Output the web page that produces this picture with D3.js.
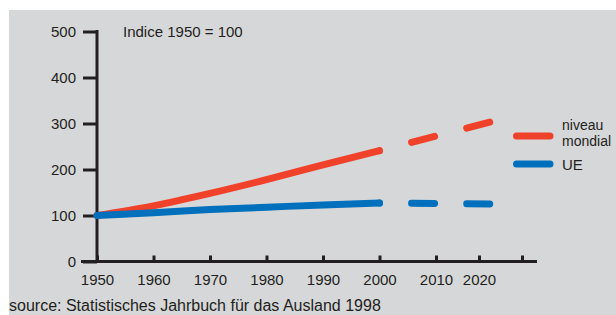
<!DOCTYPE html>
<html><head><meta charset="utf-8">
<script src="https://cdn.jsdelivr.net/npm/d3@7"></script>
<style>
body{margin:0;background:#fff;}
svg{display:block;font-family:"Liberation Sans",Arial,sans-serif;}
</style></head>
<body><svg id="c" width="616" height="315"></svg>
<script>
const years = [1950, 1960, 1970, 1980, 1990, 2000];
const projYears = [2000, 2022.5];
const mondial = [100, 121, 148, 178, 210, 241];
const mondialProj = [241, 303];
const ue = [100, 106, 113, 118, 123, 127];
const ueProj = [127, 125];
const xTicks = [1950, 1960, 1970, 1980, 1990, 2000, 2010, 2020, 2030];
const xTickLabels = ["1950", "1960", "1970", "1980", "1990", "2000", "2010", "2020", ""];
const yTicks = [0, 100, 200, 300, 400, 500];
const legendLabels = [["niveau", "mondial"], ["UE"]];
const colors = ["#f0412a", "#0070bd"];

const svg = d3.select("#c");
svg.append("rect").attr("x", 9).attr("y", 10).attr("width", 607).attr("height", 305).attr("fill", "#d6d7d9");

const x = d3.scaleLinear().domain([1950, 2010, 2020, 2030]).range([97, 436, 479, 522]);
const y = d3.scaleLinear().domain([0, 500]).range([261.5, 31.5]);
const ink = "#231f20";

// y axis
const gy = svg.append("g").attr("transform", "translate(97,0)")
  .call(d3.axisLeft(y).tickValues(yTicks).tickSize(14).tickSizeOuter(0).tickPadding(7).tickFormat(d3.format("d")));
gy.select(".domain").attr("stroke", ink).attr("stroke-width", 3).attr("d", `M0,${y(500)-1.5}V${y(0)+1.5}`);
gy.selectAll(".tick line").attr("stroke", ink).attr("stroke-width", 3);
gy.selectAll(".tick text").attr("fill", ink).attr("font-size", 15).attr("font-family", "Liberation Sans, Arial, sans-serif").attr("dy", "0.35em");

// x axis
const gx = svg.append("g").attr("transform", `translate(0,${y(0)})`)
  .call(d3.axisBottom(x).tickValues(xTicks).tickSize(-6).tickSizeOuter(0).tickFormat((d, i) => xTickLabels[i]));
gx.select(".domain").attr("stroke", ink).attr("stroke-width", 3).attr("d", "M81,0H537");
gx.selectAll(".tick line").attr("stroke", ink).attr("stroke-width", 3);
gx.selectAll(".tick text").attr("fill", ink).attr("font-size", 15).attr("font-family", "Liberation Sans, Arial, sans-serif").attr("y", 23).attr("dy", 0);

// index label
svg.append("text").attr("x", 123).attr("y", 37).attr("font-size", 15).attr("fill", ink).text("Indice 1950 = 100");

// lines
const line = d3.line().x(d => x(d[0])).y(d => y(d[1])).curve(d3.curveMonotoneX);
const series = [[mondial, mondialProj], [ue, ueProj]];
series.forEach(([vals, proj], i) => {
  svg.append("path").attr("d", line(years.map((yr, j) => [yr, vals[j]])))
    .attr("fill", "none").attr("stroke", colors[i]).attr("stroke-width", 7).attr("stroke-linecap", "round");
  const p = svg.append("path").attr("d", line(projYears.map((yr, j) => [yr, proj[j]])))
    .attr("fill", "none").attr("stroke", colors[i]).attr("stroke-width", 7).attr("stroke-linecap", "round");
  const L = p.node().getTotalLength();
  const k = L / 110;
  const g = 32 * k, dd = 23 * k;
  p.attr("stroke-dasharray", `0,${g},${dd},${g},${dd},${L}`);
});

// legend
const legY = [136, 164];
legendLabels.forEach((lab, i) => {
  svg.append("line").attr("x1", 516.5).attr("x2", 550).attr("y1", legY[i]).attr("y2", legY[i])
    .attr("stroke", colors[i]).attr("stroke-width", 7).attr("stroke-linecap", "round");
  const t = svg.append("text").attr("x", 562).attr("font-size", 14).attr("fill", ink);
  if (lab.length === 2) {
    t.append("tspan").attr("x", 562).attr("y", 129.5).text(lab[0]);
    t.append("tspan").attr("x", 562).attr("y", 145.5).text(lab[1]);
  } else {
    t.attr("y", 169.5).attr("font-size", 15).text(lab[0]);
  }
});

svg.append("text").attr("x", 9).attr("y", 310.5).attr("font-size", 16).attr("fill", ink)
  .text("source: Statistisches Jahrbuch für das Ausland 1998");
</script></body></html>
